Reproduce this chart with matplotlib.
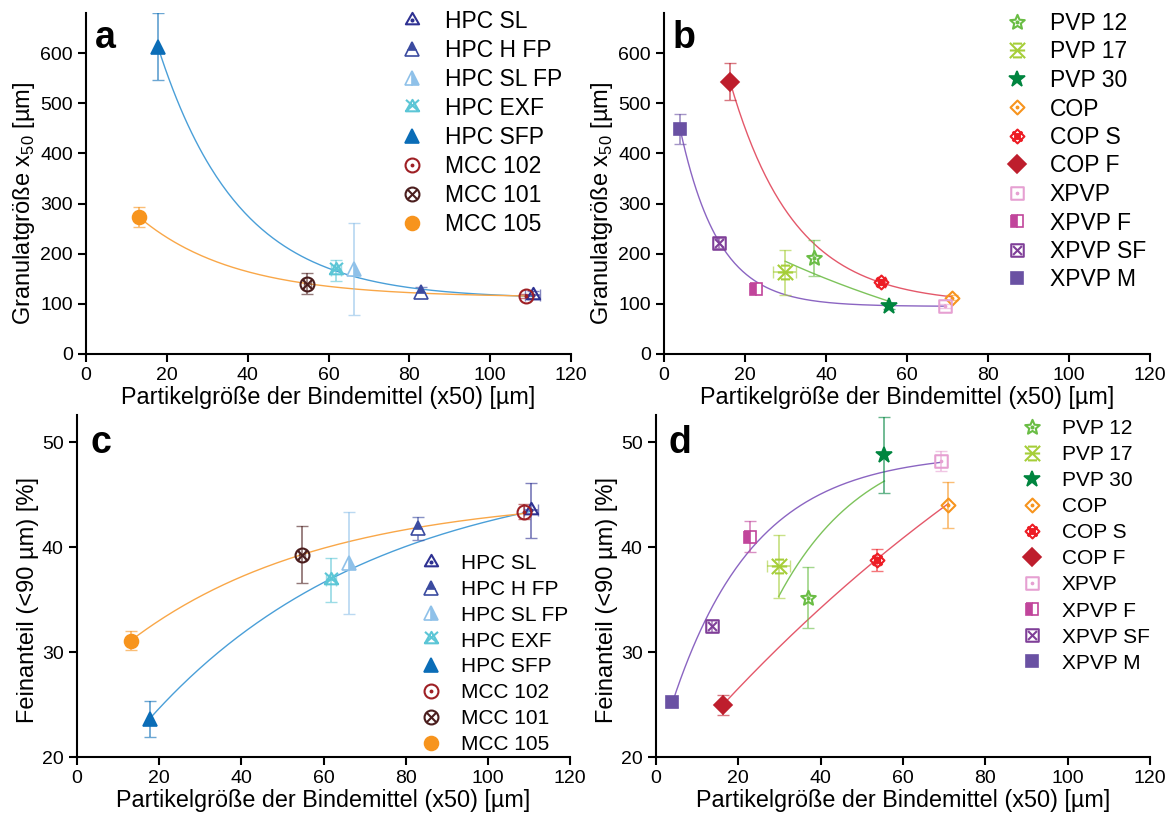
import matplotlib
matplotlib.use('Agg')
import matplotlib.pyplot as plt
import numpy as np
from matplotlib.path import Path

plt.rcParams['font.family'] = ['Liberation Sans', 'DejaVu Sans']
plt.rcParams['mathtext.fontset'] = 'custom'
plt.rcParams['mathtext.rm'] = 'Liberation Sans'

# ---- data: HPC / MCC binders (panels a, c)
names1 = ['HPC SL', 'HPC H FP', 'HPC SL FP', 'HPC EXF', 'HPC SFP',
          'MCC 102', 'MCC 101', 'MCC 105']
x1 = [110.5, 82.9, 66.2, 61.9, 17.7, 108.8, 54.8, 13.1]
x1_err = [1.8, 0, 0, 1.2, 0, 0, 0.8, 0]
gran1 = [117, 124, 170, 167, 613, 116, 140, 274]
gran1_err = [8, 10, 92, 21, 67, 4, 21, 20]
fine1 = [43.5, 41.8, 38.5, 36.9, 23.6, 43.4, 39.3, 31.1]
fine1_err = [2.6, 1.1, 4.9, 2.1, 1.7, 0.7, 2.7, 0.9]

# ---- data: PVP / COP / XPVP binders (panels b, d)
names2 = ['PVP 12', 'PVP 17', 'PVP 30', 'COP', 'COP S', 'COP F',
          'XPVP', 'XPVP F', 'XPVP SF', 'XPVP M']
x2 = [37.0, 29.8, 55.5, 71.0, 53.7, 16.3, 69.3, 22.8, 13.7, 4.0]
x2_err = [0, 2.8, 0, 0, 0.8, 0, 0, 0, 0, 0]
gran2 = [191, 163, 95, 112, 143, 543, 96, 130, 221, 448]
gran2_err = [36, 45, 6, 5, 6, 37, 4, 4, 10, 30]
fine2 = [35.2, 38.2, 48.8, 44.0, 38.8, 25.0, 48.2, 41.0, 32.5, 25.2]
fine2_err = [2.9, 3.0, 3.65, 2.2, 1.05, 0.95, 0.95, 1.5, 0.6, 0.4]

# ---- exponential fit curves: x start, x end, y start, y asymptote, rate
fit_a = [(17.7, 111.0, 615, 110, 0.05), (13.1, 109.0, 273, 113, 0.0424)]
fit_b = [(16.3, 71.0, 543, 100, 0.063), (29.9, 55.5, 185, -100, 0.01282),
         (4.0, 69.3, 448, 95, 0.105)]
fit_c = [(17.7, 110.5, 23.65, 48, 0.018), (13.1, 108.8, 31.1, 45, 0.02138)]
fit_d = [(4.0, 69.3, 25.2, 49, 0.05), (16.3, 71.0, 25.0, 85, 0.00703),
         (29.8, 55.5, 35.3, 51, 0.047)]


# ---- marker shapes
def segs(*pairs):
    verts, codes = [], []
    for a, b in pairs:
        verts += [a, b]
        codes += [Path.MOVETO, Path.LINETO]
    return Path(verts, codes)


def comp(*paths):
    return Path.make_compound_path(*paths)


tri = Path.unit_regular_polygon(3)
dot = Path.circle((0, 0), 0.13)
circ = Path.unit_circle()
xcross = segs(((-.7, -.7), (.7, .7)), ((-.7, .7), (.7, -.7)))
dia = Path([(0, 1), (1, 0), (0, -1), (-1, 0), (0, 1)], closed=True)
sq = Path([(-1, -1), (1, -1), (1, 1), (-1, 1), (-1, -1)], closed=True)
star = Path.unit_regular_star(5, 0.45)
asterisk = segs(((-1, -1), (1, 1)), ((-1, 1), (1, -1)), ((-1, 0), (1, 0)),
                ((-.6, .9), (.6, .9)), ((-.6, -.9), (.6, -.9)))
exf = comp(tri, segs(((-.85, -.5), (.85, 1)), ((-.85, 1), (.85, -.5))))

# (marker, open?, fillstyle, colour, size)
style1 = [(comp(tri, dot), True, 'full', '#2e3192', 11),
          ('^', False, 'top', '#3b4ba0', 10),
          ('^', False, 'right', '#8fc1e9', 10),
          (exf, True, 'full', '#5cc6d6', 11),
          ('^', False, 'full', '#0b6db7', 10),
          (comp(circ, dot), True, 'full', '#9e1f24', 10),
          (comp(circ, xcross), True, 'full', '#4b1e1e', 10),
          ('o', False, 'full', '#f7941d', 10)]
style2 = [(comp(star, dot), True, 'full', '#6abd45', 11),
          (asterisk, True, 'full', '#a6ce39', 11),
          ('*', False, 'full', '#00853f', 12),
          (comp(dia, dot), True, 'full', '#f7941d', 10),
          (comp(dia, xcross, Path.circle((0, 0), 0.35)), True, 'full', '#ed1c24', 10),
          ('D', False, 'full', '#be1e2d', 9),
          (comp(sq, dot), True, 'full', '#e6a0d2', 9),
          ('s', False, 'left', '#c1459b', 8.5),
          (comp(sq, xcross), True, 'full', '#7f3f98', 9),
          ('s', False, 'full', '#6a51a3', 8.5)]

fit_cols_a = ['#4a9fd8', '#f9a748']
fit_cols_b = ['#e4586a', '#7dc35b', '#8b65c2']

W, H = 1171, 817
fig = plt.figure(figsize=(W / 100, H / 100), dpi=100)


def add_axes(l, r, b, t):
    return fig.add_axes([l / W, 1 - b / H, (r - l) / W, (b - t) / H])


def draw(ax, names, xs, xerr, ys, yerr, styles, fits, fit_cols, ylim, yticks, ylabel,
         leg_x, leg_y, leg_fs, leg_sp):
    for (x0, x1_, y0, yinf, k), col in zip(fits, fit_cols):
        xx = np.linspace(x0, x1_, 200)
        ax.plot(xx, yinf + (y0 - yinf) * np.exp(-k * (xx - x0)), color=col, lw=1.0, zorder=1)
    handles = []
    for i, name in enumerate(names):
        mk, is_open, fs, col, ms = styles[i]
        ax.errorbar(xs[i], ys[i], yerr=yerr[i], xerr=xerr[i] if xerr[i] else None,
                    fmt='none', ecolor=col, alpha=0.6, elinewidth=1.3, capsize=4, zorder=2)
        if is_open:
            h, = ax.plot(xs[i], ys[i], ls='none', marker=mk, ms=ms, mfc='none', mec=col,
                         mew=1.5, label=name, zorder=3)
        else:
            h, = ax.plot(xs[i], ys[i], ls='none', marker=mk, ms=ms, mfc=col, mec=col,
                         mew=1.2, fillstyle=fs, markerfacecoloralt='white', label=name, zorder=3)
        handles.append(h)
    ax.set_xlim(0, 120)
    ax.set_xticks(range(0, 121, 20))
    ax.set_ylim(*ylim)
    ax.set_yticks(yticks)
    for s in ['top', 'right']:
        ax.spines[s].set_visible(False)
    for s in ['left', 'bottom']:
        ax.spines[s].set_linewidth(1.5)
    ax.tick_params(direction='out', length=5.5, width=1.5, labelsize=14, pad=4)
    ax.set_xlabel('Partikelgröße der Bindemittel (x50) [µm]', fontsize=16.8, labelpad=1)
    ax.set_ylabel(ylabel, fontsize=17, labelpad=2)
    # label centred on the ticked range, not on the full axis
    ax.yaxis.label.set_y(((yticks[0] + yticks[-1]) / 2 - ylim[0]) / (ylim[1] - ylim[0]))
    ax.legend(handles=handles, loc='upper left', bbox_to_anchor=(leg_x / W, 1 - leg_y / H),
              bbox_transform=fig.transFigure, frameon=False, fontsize=leg_fs,
              handlelength=1.0, handletextpad=0.9, labelspacing=leg_sp, borderpad=0,
              borderaxespad=0)


gran_label = 'Granulatgröße x$_\\mathregular{50}$ [µm]'
fine_label = 'Feinanteil (<90 µm) [%]'

ax_a = add_axes(86, 571, 354, 13)
draw(ax_a, names1, x1, x1_err, gran1, gran1_err, style1, fit_a, fit_cols_a,
     (0, 680), list(range(0, 601, 100)), gran_label, 401, 10, 16.5, 0.26)

ax_b = add_axes(664, 1150, 354, 13)
draw(ax_b, names2, x2, x2_err, gran2, gran2_err, style2, fit_b, fit_cols_b,
     (0, 680), list(range(0, 601, 100)), gran_label, 1006, 12, 16.5, 0.24)

ax_c = add_axes(77, 570, 757, 415)
draw(ax_c, names1, x1, x1_err, fine1, fine1_err, style1, fit_c, fit_cols_a,
     (20, 52.6), list(range(20, 51, 10)), fine_label, 421, 554, 15, 0.33)

ax_d = add_axes(656, 1150, 757, 415)
draw(ax_d, names2, x2, x2_err, fine2, fine2_err, style2, fit_d,
     [fit_cols_b[2], fit_cols_b[0], fit_cols_b[1]],
     (20, 52.6), list(range(20, 51, 10)), fine_label, 1022, 419, 15, 0.34)

# panel letters (baseline positions in pixels)
for letter, px, py in [('a', 95, 48), ('b', 673, 48), ('c', 90, 453), ('d', 668, 453)]:
    fig.text(px / W, 1 - py / H, letter, fontsize=27, fontweight='bold',
             ha='left', va='baseline')

fig.savefig('out.png', dpi=100)
